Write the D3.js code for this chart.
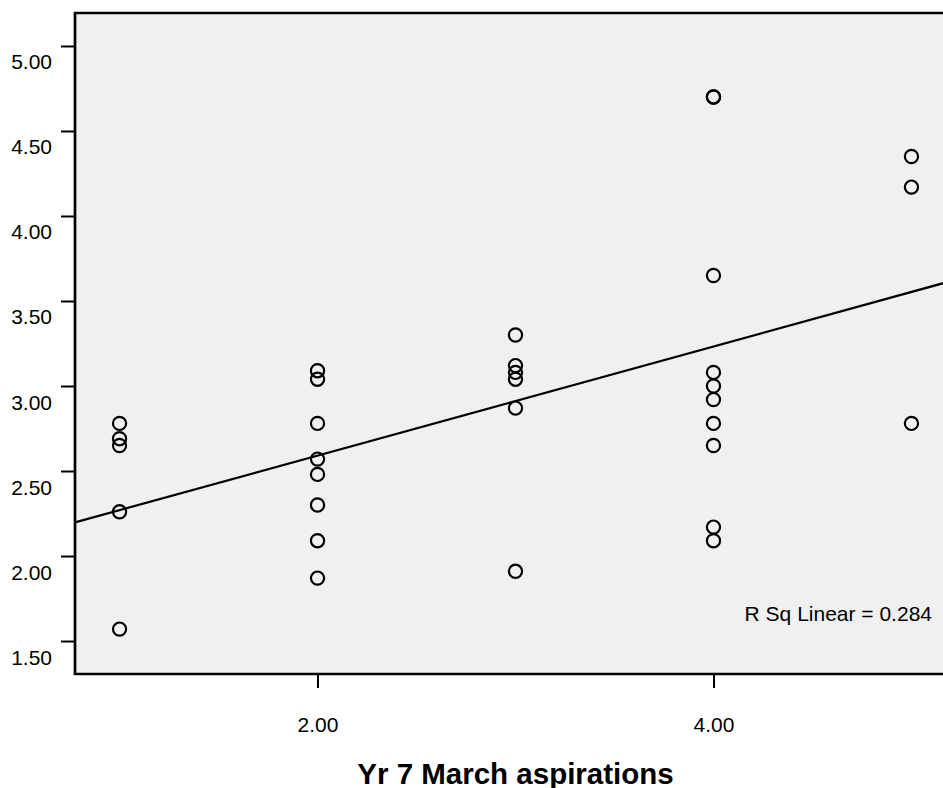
<!DOCTYPE html>
<html>
<head>
<meta charset="utf-8">
<style>
    body { margin: 0; background: #fff; }
    text { font-family: "Liberation Sans", Arial, sans-serif; fill: #000; }
    .tick text { font-size: 21px; }
    .tick line { stroke: #000; stroke-width: 2; }
    .frame { stroke: #000; stroke-width: 2.7; fill: none; }
    .dot { fill: none; stroke: #000; stroke-width: 2.2; }
    .fit { stroke: #000; stroke-width: 2.2; fill: none; }
</style>
</head>
<body>
<svg id="chart" width="943" height="788"></svg>
<script src="https://cdn.jsdelivr.net/npm/d3@7"></script>
<script>
    // x = Yr 7 March aspirations, y = outcome score (one entry per case)
    const aspirations = [
        1, 1, 1, 1, 1,
        2, 2, 2, 2, 2, 2, 2, 2,
        3, 3, 3, 3, 3, 3,
        4, 4, 4, 4, 4, 4, 4, 4, 4, 4,
        5, 5, 5
    ];
    const scores = [
        2.78, 2.69, 2.65, 2.26, 1.57,
        3.09, 3.04, 2.78, 2.57, 2.48, 2.30, 2.09, 1.87,
        3.30, 3.12, 3.08, 3.04, 2.87, 1.91,
        4.70, 4.70, 3.65, 3.08, 3.00, 2.92, 2.78, 2.65, 2.17, 2.09,
        4.35, 4.17, 2.78
    ];
    const yTicks = [1.5, 2.0, 2.5, 3.0, 3.5, 4.0, 4.5, 5.0];
    const xTicks = [2, 4];
    const xTitle = "Yr 7 March aspirations";
    const rsqLabel = "R Sq Linear = 0.284";

    const plotLeft = 75, plotTop = 13, plotRight = 956, plotBottom = 674;
    const svg = d3.select("#chart");

    const x = d3.scaleLinear().domain([0.775, 5.225]).range([plotLeft, plotRight]);
    const y = d3.scaleLinear().domain([1.306, 5.194]).range([plotBottom, plotTop]);

    // plot background
    svg.append("rect")
        .attr("x", plotLeft).attr("y", plotTop)
        .attr("width", plotRight - plotLeft).attr("height", plotBottom - plotTop)
        .attr("fill", "#f0f0f0");

    // least squares fit from the points
    const mx = d3.mean(aspirations), my = d3.mean(scores);
    let sxy = 0, sxx = 0;
    aspirations.forEach((a, i) => {
        sxy += (a - mx) * (scores[i] - my);
        sxx += (a - mx) * (a - mx);
    });
    const slope = sxy / sxx, intercept = my - slope * mx;
    const xd = x.domain();
    svg.append("line")
        .attr("class", "fit")
        .attr("x1", x(xd[0])).attr("y1", y(intercept + slope * xd[0]))
        .attr("x2", x(xd[1])).attr("y2", y(intercept + slope * xd[1]));

    // points
    svg.append("g").selectAll("circle")
        .data(scores)
        .join("circle")
        .attr("class", "dot")
        .attr("cx", (d, i) => x(aspirations[i]))
        .attr("cy", d => y(d))
        .attr("r", 6.6);

    // axes
    const yAxis = svg.append("g")
        .attr("transform", `translate(${plotLeft},0)`)
        .call(d3.axisLeft(y).tickValues(yTicks).tickFormat(d3.format(".2f")).tickSize(14));
    yAxis.select(".domain").remove();
    yAxis.selectAll(".tick text").attr("x", -23).attr("y", 23).attr("dy", 0);

    const xAxis = svg.append("g")
        .attr("transform", `translate(0,${plotBottom})`)
        .call(d3.axisBottom(x).tickValues(xTicks).tickFormat(d3.format(".2f")).tickSize(14));
    xAxis.select(".domain").remove();
    xAxis.selectAll(".tick text").attr("y", 58).attr("dy", 0);

    // frame (top, left, bottom)
    svg.append("path")
        .attr("class", "frame")
        .attr("d", `M${plotRight},${plotTop}H${plotLeft}V${plotBottom}H${plotRight}`);

    svg.append("text")
        .attr("x", 932).attr("y", 620.5)
        .attr("text-anchor", "end")
        .style("font-size", "21px")
        .text(rsqLabel);

    svg.append("text")
        .attr("x", x(3)).attr("y", 784)
        .attr("text-anchor", "middle")
        .style("font-size", "29.5px")
        .style("font-weight", "bold")
        .text(xTitle);
</script>
</body>
</html>
